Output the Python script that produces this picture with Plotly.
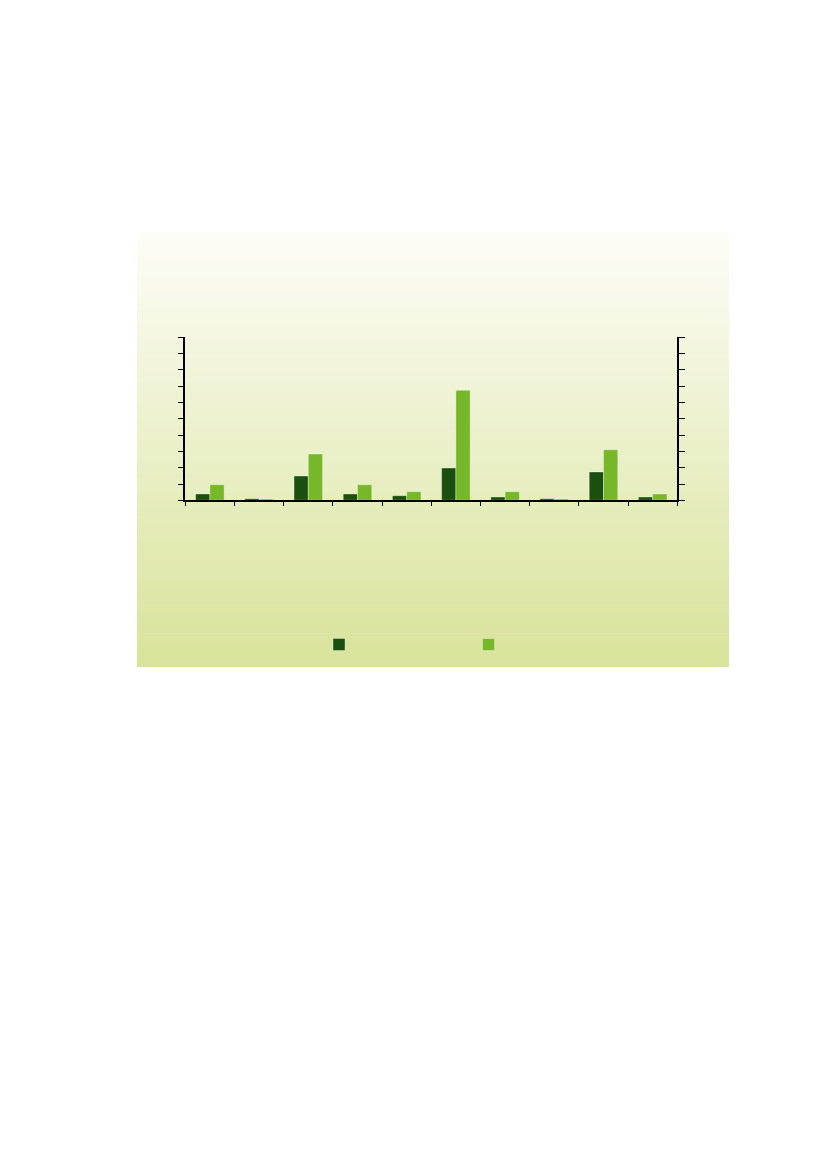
import plotly.graph_objs as go

W, H = 827, 1169
OFF = 8  # page body margin

categories = ["1", "2", "3", "4", "5", "6", "7", "8", "9", "10"]
series_dark = [0.39, 0.10, 1.49, 0.39, 0.28, 1.98, 0.20, 0.10, 1.74, 0.20]
series_light = [0.96, 0.08, 2.84, 0.96, 0.53, 6.75, 0.53, 0.08, 3.10, 0.39]
series_names = ["", ""]


def px_x(p):
	return (p - OFF) / W


def px_y(p):
	return 1 - (p - OFF) / H


def mix(c1, c2, t):
	return "rgb({},{},{})".format(*[round(a + (b - a) * t) for a, b in zip(c1, c2)])


# gradient panel behind the chart, drawn as thin strips
top_col = (253, 253, 248)
bot_col = (216, 227, 153)
panel_top, panel_bot = 232, 667
steps = 90
shapes = []
for i in range(steps):
	y0 = panel_top + (panel_bot - panel_top) * i / steps
	y1 = panel_top + (panel_bot - panel_top) * (i + 1) / steps + 0.6
	shapes.append(dict(
		type="rect", xref="paper", yref="paper", layer="below",
		x0=px_x(137), x1=px_x(729), y0=px_y(min(y1, panel_bot)), y1=px_y(y0),
		fillcolor=mix(top_col, bot_col, (i + 0.5) / steps),
		line=dict(width=0),
	))

data = [
	go.Bar(
		x=categories, y=series_dark, name=series_names[0],
		marker=dict(color="#1b4f10", line=dict(color="rgba(255,255,255,0.35)", width=1)),
	),
	go.Bar(
		x=categories, y=series_light, name=series_names[1],
		marker=dict(color="#76b82a", line=dict(color="rgba(255,255,255,0.35)", width=1)),
	),
]

layout = go.Layout(
	width=W, height=H,
	margin=dict(l=0, r=0, t=0, b=0),
	paper_bgcolor="white",
	plot_bgcolor="rgba(0,0,0,0)",
	font=dict(family="Liberation Sans", size=11, color="black"),
	barmode="group",
	bargap=0.42,
	bargroupgap=0,
	shapes=shapes,
	xaxis=dict(
		domain=[px_x(185.3), px_x(677.3)],
		type="category",
		tickson="boundaries",
		ticks="outside", ticklen=4, tickwidth=1.2, tickcolor="black",
		showticklabels=False,
		showline=True, linecolor="black", linewidth=1.5,
		showgrid=False, zeroline=False,
	),
	yaxis=dict(
		domain=[px_y(500.3), px_y(337.3)],
		range=[0, 10], dtick=1,
		ticks="outside", ticklen=6, tickwidth=1.2, tickcolor="black",
		showticklabels=False,
		showline=True, linecolor="black", linewidth=1.5,
		mirror="ticks",
		showgrid=False, zeroline=False,
	),
	showlegend=True,
	legend=dict(
		orientation="h",
		x=px_x(319), y=px_y(644.5), yanchor="middle", xanchor="left",
		entrywidth=104.5, entrywidthmode="pixels",
		bgcolor="rgba(0,0,0,0)",
		traceorder="normal",
	),
)

fig = go.Figure(data=data, layout=layout)
fig.write_html("out.html")
